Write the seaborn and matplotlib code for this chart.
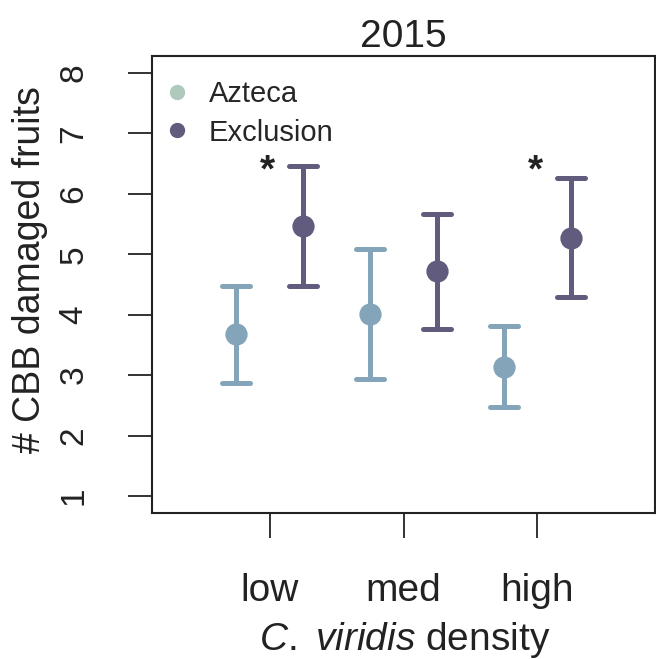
import numpy as np
import pandas as pd
import matplotlib
matplotlib.use("Agg")
import matplotlib.pyplot as plt
import seaborn as sns
from matplotlib.lines import Line2D

# ---- data ----
density = ["low", "med", "high"]
treatments = ["Azteca", "Exclusion"]
azteca_mean = [3.68, 4.01, 3.14]
azteca_lower = [2.87, 2.94, 2.47]
azteca_upper = [4.48, 5.09, 3.81]
excl_mean = [5.47, 4.73, 5.27]
excl_lower = [4.48, 3.77, 4.29]
excl_upper = [6.46, 5.67, 6.26]
signif = ["*", "", "*"]
signif_y = 6.2
yticks = [1, 2, 3, 4, 5, 6, 7, 8]

point_colors = ["#84a5b9", "#615b7d"]
legend_colors = ["#b0c9bd", "#615b7d"]

rows = []
for trt, lo_s, mu_s, hi_s in [("Azteca", azteca_lower, azteca_mean, azteca_upper),
                              ("Exclusion", excl_lower, excl_mean, excl_upper)]:
    for d, lo, mu, hi in zip(density, lo_s, mu_s, hi_s):
        for v in (lo, mu, hi):
            rows.append({"density": d, "treatment": trt, "value": v})
df = pd.DataFrame(rows)

sns.set_style("ticks")
plt.rcParams["font.family"] = ["Liberation Sans", "DejaVu Sans"]
plt.rcParams["mathtext.fontset"] = "custom"
plt.rcParams["mathtext.it"] = "Liberation Sans:italic"
plt.rcParams["mathtext.rm"] = "Liberation Sans"

fig = plt.figure(figsize=(6.56, 6.59), dpi=100)
ax = fig.add_axes([152 / 656, 1 - 513 / 659, (655 - 152) / 656, (513 - 56) / 659])

sns.pointplot(data=df, x="density", y="value", hue="treatment",
              order=density, hue_order=treatments,
              estimator="median", errorbar=("pi", 100),
              dodge=0.5, linestyle="none", marker="o", markersize=14,
              capsize=0.21, err_kws={"linewidth": 3.6},
              palette=point_colors, ax=ax, legend=False)

for i, s in enumerate(signif):
    if s:
        ax.text(i - 0.015, signif_y, s, ha="center", va="baseline",
                fontsize=28, fontweight="bold", color="#222222")

ax.set_xlim(-0.88, 2.88)
ax.set_ylim(0.72, 8.28)
ax.set_yticks(yticks)
ax.set_yticklabels([str(t) for t in yticks], rotation=90, va="center")
ax.set_xticks(range(len(density)))
ax.set_xticklabels(density)
ax.set_xlabel("")
ax.set_ylabel("")
ax.tick_params(axis="y", length=17, width=1.3, pad=28, labelsize=24, colors="#222222")
ax.tick_params(axis="x", length=18, width=1.3, pad=25, labelsize=28, colors="#222222")
for sp in ax.spines.values():
    sp.set_visible(True)
    sp.set_linewidth(1.5)
    sp.set_color("#222222")

ax.set_title("2015", fontsize=28, pad=6.5, color="#222222")
fig.text(30 / 656, 1 - 270 / 659, "# CBB damaged fruits", rotation=90,
         ha="center", va="center", fontsize=27, color="#222222")
fig.text(405 / 656, 1 - 650 / 659, r"$\it{C.}$ $\it{viridis}$ density",
         ha="center", va="baseline", fontsize=28, color="#222222")

handles = [Line2D([], [], linestyle="none", marker="o", markersize=10,
                  markerfacecolor=c, markeredgecolor=c) for c in legend_colors]
ax.legend(handles, treatments, loc="upper left", frameon=False, fontsize=21,
          handlelength=0.8, handletextpad=0.7, labelspacing=0.35,
          borderaxespad=0.0, bbox_to_anchor=(0.003, 0.972))

fig.savefig("out.png", dpi=100)
